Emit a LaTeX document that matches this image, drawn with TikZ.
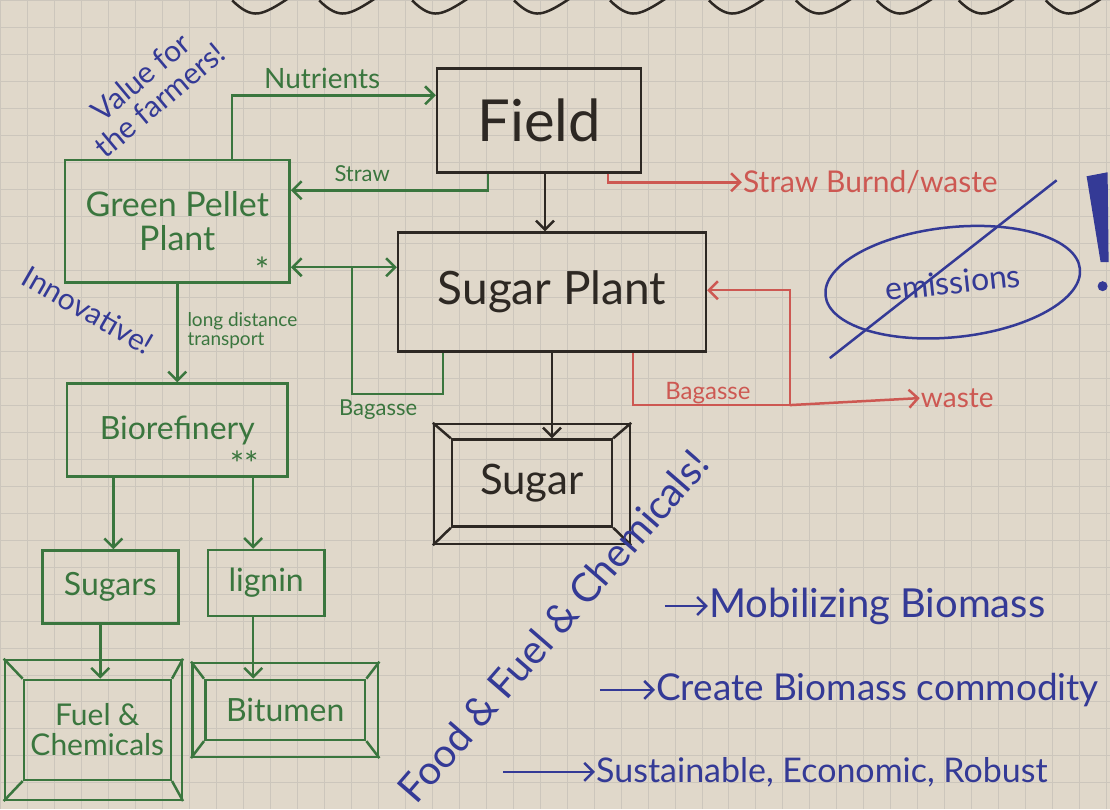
\documentclass[tikz,border=0pt]{standalone}
\usepackage{fontspec}
\setmainfont{Lato}
\usetikzlibrary{arrows.meta,shapes.geometric}

\definecolor{paper}{RGB}{224,216,202}
\definecolor{gridline}{RGB}{204,198,188}
\definecolor{ink}{RGB}{45,40,35}
\definecolor{pengreen}{RGB}{58,118,62}
\definecolor{penred}{RGB}{205,88,82}
\definecolor{penblue}{RGB}{52,58,150}

\newcommand{\fsz}[1]{\fontsize{#1}{#1}\selectfont}

\tikzset{every picture/.style={line width=2.5pt}}
\tikzset{
  bbox/.style={draw=ink, text=ink, rectangle, inner sep=0pt, align=center},
  gbox/.style={draw=pengreen, text=pengreen, rectangle, inner sep=0pt, align=center},
  tip/.style={-{Straight Barb[length=9pt,width=18pt]}},
  twotip/.style={{Straight Barb[length=9pt,width=18pt]}-{Straight Barb[length=9pt,width=18pt]}},
  glabel/.style={text=pengreen, inner sep=0pt},
  rlabel/.style={text=penred, inner sep=0pt},
  note/.style={text=penblue, inner sep=0pt, align=left}
}

\begin{document}
\begin{tikzpicture}[x=1pt,y=1pt,yscale=-1]
%paper and grid
\fill[paper] (0,0) rectangle (1110,809);
\draw[gridline, line width=0.8pt] (0,0) grid[step=27] (1110,809);
\useasboundingbox (0,0) rectangle (1110,809);

%scallops of the sheet above
\foreach \sx in {258,345,438,540,636,735,822,903,985,1072}
  \draw[ink] (\sx-26,0) .. controls (\sx-16,10) and (\sx-8,14) .. (\sx,13) .. controls (\sx+8,12) and (\sx+18,6) .. (\sx+30,-2);

% Black nodes
\node[bbox, minimum width=204, minimum height=104, font=\fsz{58}] (field) at (539,120) {Field};
\node[bbox, minimum width=308, minimum height=119, font=\fsz{46}] (plant) at (552,292) {Sugar Plant};
\node[bbox, minimum width=196, minimum height=120] (sugarframe) at (532,484) {};
\node[bbox, minimum width=160, minimum height=87, font=\fsz{42}] (sugar) at (532,483) {Sugar};
\foreach \c in {north west,north east,south west,south east}
  \draw[ink] (sugarframe.\c) -- (sugar.\c);

% Green nodes
\node[gbox, minimum width=225, minimum height=123, font=\fsz{34}] (pellet) at (177,221) {Green Pellet\\Plant};
\node[gbox, minimum width=221, minimum height=93, font=\fsz{32}] (biore) at (177,430) {Biorefinery};
\node[gbox, minimum width=136, minimum height=73, font=\fsz{32}] (sugars) at (110,587) {Sugars};
\node[gbox, minimum width=117, minimum height=66, font=\fsz{32}] (lignin) at (266,583) {lignin};
\node[gbox, minimum width=177, minimum height=140] (fuelframe) at (93,730) {};
\node[gbox, minimum width=147, minimum height=100, font=\fsz{30}] (fuel) at (97,730) {Fuel \&\\Chemicals};
\node[gbox, minimum width=186, minimum height=94] (bitframe) at (285,710) {};
\node[gbox, minimum width=160, minimum height=60, font=\fsz{32}] (bitumen) at (285,710) {Bitumen};
\foreach \c in {north west,north east,south west,south east}{
  \draw[pengreen] (fuelframe.\c) -- (fuel.\c);
  \draw[pengreen] (bitframe.\c) -- (bitumen.\c);
}
\node[glabel, font=\fsz{34}] (star) at (262,270) {*};
\node[glabel, font=\fsz{34}] (stars) at (244,464) {**};

% Labels
\node[glabel, font=\fsz{28}] (nutlabel) at (322,78) {Nutrients};
\node[glabel, font=\fsz{22}] (strawlabel) at (362,173) {Straw};
\node[glabel, font=\fsz{22}] (baglabel) at (378,410) {Bagasse};
\node[glabel, font=\fsz{19}, align=left, anchor=west] (longlabel) at (186,330) {long distance\\transport};
\node[rlabel, font=\fsz{30}, anchor=west] (strawwaste) at (742,182) {Straw Burnd/waste};
\node[rlabel, font=\fsz{24}] (redbaglabel) at (708,393) {Bagasse};
\node[rlabel, font=\fsz{28}, anchor=west] (waste) at (920,398) {waste};

% Coordinates
\coordinate (bagjoin) at (352,267);
\coordinate (bagsplit) at (790,405);

% Green connectors
\draw[pengreen, tip] ([xshift=55pt]pellet.north) |- ([yshift=-25pt]field.west);
\draw[pengreen, tip] ([xshift=-51pt]field.south) |- ([yshift=-31pt]pellet.east);
\draw[pengreen, twotip] ([yshift=46pt]pellet.east) -- ([yshift=46pt]pellet.east -| plant.west);
\draw[pengreen] ([xshift=-109pt]plant.south) -- ++(0,41) -| (bagjoin);
\draw[pengreen, tip] (pellet.south) -- (biore.north);
\draw[pengreen, tip] ([xshift=-64pt]biore.south) -- ([xshift=-64pt]biore.south |- sugars.north);
\draw[pengreen, tip] ([xshift=76pt]biore.south) -- ([xshift=76pt]biore.south |- lignin.north);
\draw[pengreen, tip] ([xshift=-10pt]sugars.south) -- ([xshift=-10pt]sugars.south |- fuel.north);
\draw[pengreen, tip] ([xshift=-13pt]lignin.south) -- ([xshift=-13pt]lignin.south |- bitumen.north);

% Black connectors
\draw[ink, tip] ([xshift=6pt]field.south) -- ([xshift=6pt]field.south |- plant.north);
\draw[ink, tip] (plant.south) -- (plant.south |- sugar.north);

% Red connectors
\draw[penred, tip] ([xshift=69pt]field.south) |- (strawwaste.west);
\draw[penred] ([xshift=81pt]plant.south) |- (bagsplit);
\draw[penred, tip] (bagsplit) -- (waste.west);
\draw[penred, tip] (bagsplit) |- ([yshift=-2pt]plant.east);

% Blue notes
\node[note, font=\fsz{30}, rotate=40, align=center] (farmers) at (150,88) {Value for\\the farmers!};
\node[note, font=\fsz{30}, rotate=-30] (innov) at (88,310) {Innovative!};
\node[note, draw=penblue, ellipse, minimum width=256, minimum height=110, rotate=6, font=\fsz{32}] (emis) at (953,282) {emissions};
\draw[penblue] (830,358) -- (1057,180);
\fill[penblue] (1087,176) -- (1108,172) -- (1109,262) -- (1101,262) -- cycle;
\fill[penblue] (1103,286) circle (5);
\node[note, font=\fsz{40}, rotate=49] (food) at (553,626) {Food \& Fuel \& Chemicals!};
\node[note, font=\fsz{40}, anchor=west] (mobil) at (708,606) {Mobilizing Biomass};
\node[note, font=\fsz{37}, anchor=west] (create) at (655,690) {Create Biomass commodity};
\node[note, font=\fsz{34}, anchor=west] (sustain) at (595,772) {Sustainable, Economic, Robust};
\draw[penblue, tip] ([xshift=-43pt]mobil.west) -- (mobil.west);
\draw[penblue, tip] ([xshift=-55pt]create.west) -- (create.west);
\draw[penblue, tip] ([xshift=-92pt]sustain.west) -- (sustain.west);
\end{tikzpicture}
\end{document}
